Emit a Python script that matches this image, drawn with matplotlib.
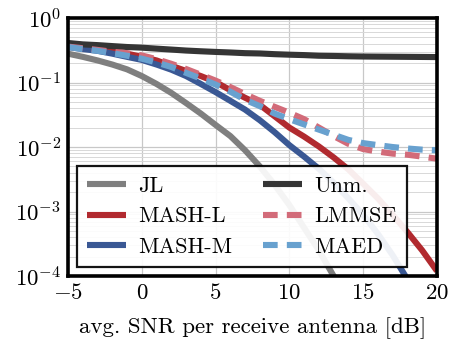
import matplotlib
matplotlib.use('Agg')
import matplotlib.pyplot as plt
import numpy as np
from matplotlib.ticker import LogLocator, NullFormatter

plt.rcParams['font.family'] = 'serif'
plt.rcParams['font.serif'] = ['cmr10']
plt.rcParams['mathtext.fontset'] = 'cm'
plt.rcParams['axes.formatter.use_mathtext'] = True
plt.rcParams['axes.unicode_minus'] = True

# SNR grid in dB
snr = np.arange(-5, 21)

# values (BER-like, log scale)
jl = [2.8e-1, 2.5e-1, 2.2e-1, 1.9e-1, 1.6e-1, 1.26e-1, 9.5e-2, 6.9e-2, 4.8e-2, 3.3e-2,
      2.2e-2, 1.48e-2, 8.9e-3, 5.0e-3, 2.6e-3, 1.26e-3, 5.6e-4, 2.5e-4, 1.0e-4, 4.0e-5]
unm = [4.1e-1, 3.9e-1, 3.8e-1, 3.67e-1, 3.55e-1, 3.47e-1, 3.35e-1, 3.24e-1, 3.13e-1, 3.05e-1,
       2.98e-1, 2.92e-1, 2.85e-1, 2.82e-1, 2.75e-1, 2.7e-1, 2.66e-1, 2.6e-1, 2.58e-1, 2.55e-1,
       2.53e-1, 2.52e-1, 2.51e-1, 2.5e-1, 2.49e-1, 2.48e-1]
mash_l = [3.8e-1, 3.55e-1, 3.3e-1, 3.1e-1, 2.8e-1, 2.5e-1, 2.2e-1, 1.82e-1, 1.51e-1, 1.26e-1,
          1.02e-1, 7.6e-2, 5.8e-2, 4.5e-2, 3.0e-2, 2.0e-2, 1.45e-2, 1.02e-2, 6.9e-3, 4.5e-3,
          2.7e-3, 1.6e-3, 8.9e-4, 4.8e-4, 2.5e-4, 1.2e-4]
mash_m = [3.55e-1, 3.3e-1, 3.1e-1, 2.8e-1, 2.5e-1, 2.24e-1, 1.9e-1, 1.58e-1, 1.26e-1, 9.5e-2,
          7.1e-2, 5.2e-2, 3.8e-2, 2.6e-2, 1.7e-2, 1.07e-2, 7.1e-3, 4.6e-3, 2.8e-3, 1.6e-3,
          8.9e-4, 4.5e-4, 2.1e-4, 8.9e-5]
lmmse = [3.6e-1, 3.4e-1, 3.2e-1, 3.0e-1, 2.85e-1, 2.63e-1, 2.3e-1, 1.95e-1, 1.62e-1, 1.32e-1,
         1.07e-1, 8.5e-2, 6.6e-2, 5.2e-2, 4.2e-2, 3.4e-2, 2.7e-2, 2.0e-2, 1.48e-2, 1.12e-2,
         9.3e-3, 8.5e-3, 7.9e-3, 7.6e-3, 7.1e-3, 6.6e-3]
maed = [3.55e-1, 3.3e-1, 3.1e-1, 2.85e-1, 2.6e-1, 2.34e-1, 2.04e-1, 1.74e-1, 1.41e-1, 1.15e-1,
        9.3e-2, 7.2e-2, 5.4e-2, 4.3e-2, 3.3e-2, 2.7e-2, 2.24e-2, 1.86e-2, 1.55e-2, 1.29e-2,
        1.15e-2, 1.07e-2, 1.0e-2, 9.5e-3, 9.1e-3, 8.9e-3]

labels = ['JL', 'MASH-L', 'MASH-M', 'Unm.', 'LMMSE', 'MAED']
colors = ['#7f7f7f', '#b12a2f', '#3a5894', '#353535', '#d26b79', '#68a1cf']

fig = plt.figure(figsize=(4.58, 3.53), dpi=100)
ax = fig.add_axes([0.1485, 0.218, 0.8055, 0.731])

lw = 4.4
series = [jl, mash_l, mash_m, unm, lmmse, maed]
for vals, lab, col in zip(series, labels, colors):
    x = snr[:len(vals)]
    if lab in ('LMMSE', 'MAED'):
        ax.plot(x, vals, color=col, lw=lw, label=lab, dashes=(2.4, 1.5),
                dash_capstyle='butt', solid_capstyle='butt')
    else:
        ax.plot(x, vals, color=col, lw=lw, label=lab, solid_capstyle='butt')

ax.set_yscale('log')
ax.set_xlim(-5, 20)
ax.set_ylim(1e-4, 1e0)
ax.set_xticks([-5, 0, 5, 10, 15, 20])
ax.yaxis.set_major_locator(LogLocator(base=10, numticks=10))
ax.yaxis.set_minor_locator(LogLocator(base=10, subs=np.arange(2, 10), numticks=10))
ax.yaxis.set_minor_formatter(NullFormatter())
ax.tick_params(which='both', length=0, labelsize=16.5, pad=5)
ax.grid(True, which='major', color='#c8c8c8', lw=0.9)
ax.grid(True, which='minor', axis='y', color='#d8d8d8', lw=0.7)
ax.set_axisbelow(True)
for s in ax.spines.values():
    s.set_linewidth(2.6)

ax.set_xlabel('avg. SNR per receive antenna [dB]', fontsize=16.5, labelpad=10)

leg = ax.legend(ncol=2, loc='lower left', bbox_to_anchor=(0.024, 0.035, 0.895, 0.385),
                mode='expand', fontsize=16, frameon=True, fancybox=False,
                handlelength=1.75, handletextpad=0.55, labelspacing=0.5,
                borderpad=0.45, borderaxespad=0)
leg.get_frame().set_edgecolor('black')
leg.get_frame().set_linewidth(1.6)
leg.get_frame().set_alpha(0.92)

fig.savefig('out.png', dpi=100)
